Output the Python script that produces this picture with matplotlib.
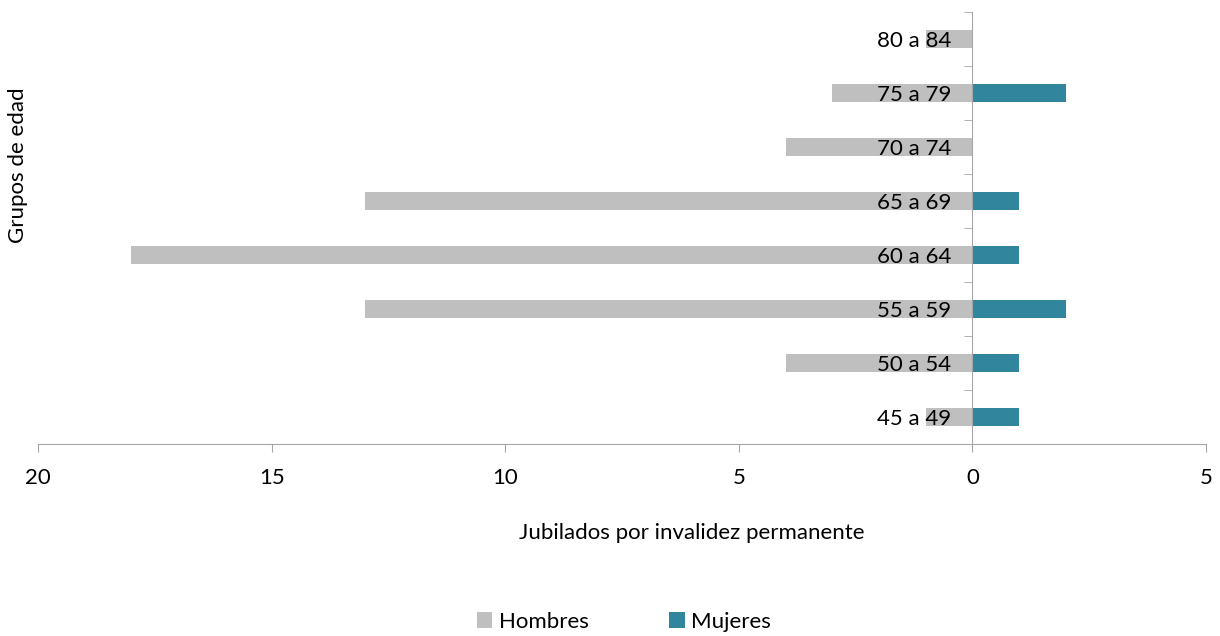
import matplotlib.pyplot as plt
import numpy as np
from matplotlib.ticker import FixedLocator, FuncFormatter

plt.rcParams["font.family"] = ["Lato", "DejaVu Sans"]
plt.rcParams["font.size"] = 16

# ── Data ───────────────────────────────────────────────────────────────────
grupos = ["45 a 49", "50 a 54", "55 a 59", "60 a 64", "65 a 69", "70 a 74", "75 a 79", "80 a 84"]
hombres = [1, 4, 13, 18, 13, 4, 3, 1]
mujeres = [1, 1, 2, 1, 1, 0, 2, 0]
x_ticks = [-20, -15, -10, -5, 0, 5]

GRAY = "#BFBFBF"
TEAL = "#31859C"
AXIS = "#A6A6A6"

fig = plt.figure(figsize=(12.2, 6.36), dpi=100)
ax = fig.add_axes([38 / 1220, 1 - 444 / 636, (1206 - 38) / 1220, (444 - 12) / 636])

y = np.arange(len(grupos))
ax.barh(y, [-h for h in hombres], height=0.33, color=GRAY, label="Hombres", zorder=1)
ax.barh(y, mujeres, height=0.33, color=TEAL, label="Mujeres", zorder=1)

ax.set_xlim(-20, 5)
ax.set_ylim(-0.5, len(grupos) - 0.5)

# spines: x axis at bottom, y axis at x=0
for s in ["top", "right"]:
    ax.spines[s].set_visible(False)
ax.spines["left"].set_position(("data", 0))
ax.spines["left"].set_color(AXIS)
ax.spines["bottom"].set_color(AXIS)
ax.spines["left"].set_zorder(3)

ax.xaxis.set_major_locator(FixedLocator(x_ticks))
ax.xaxis.set_major_formatter(FuncFormatter(lambda v, p: f"{abs(v):g}"))
ax.tick_params(axis="x", direction="out", length=6, color=AXIS, pad=11)

ax.set_yticks(y)
ax.set_yticklabels(grupos)
ax.set_yticks(np.arange(-0.5, len(grupos)), minor=True)
ax.tick_params(axis="y", which="major", length=0, pad=15)
ax.tick_params(axis="y", which="minor", direction="out", length=6, color=AXIS)
for lbl in ax.get_yticklabels():
    lbl.set_zorder(4)

fig.text(692 / 1220, 1 - 533 / 636, "Jubilados por invalidez permanente", ha="center", va="center")
fig.text(18 / 1220, 1 - 165 / 636, "Grupos de edad", rotation=90, ha="center", va="center")

fig.legend(loc="center", bbox_to_anchor=(624 / 1220, 1 - 622 / 636), ncol=2, frameon=False,
           handlelength=0.7, handleheight=0.7, handletextpad=0.3, columnspacing=3.6)

fig.savefig("out.png", dpi=100)
